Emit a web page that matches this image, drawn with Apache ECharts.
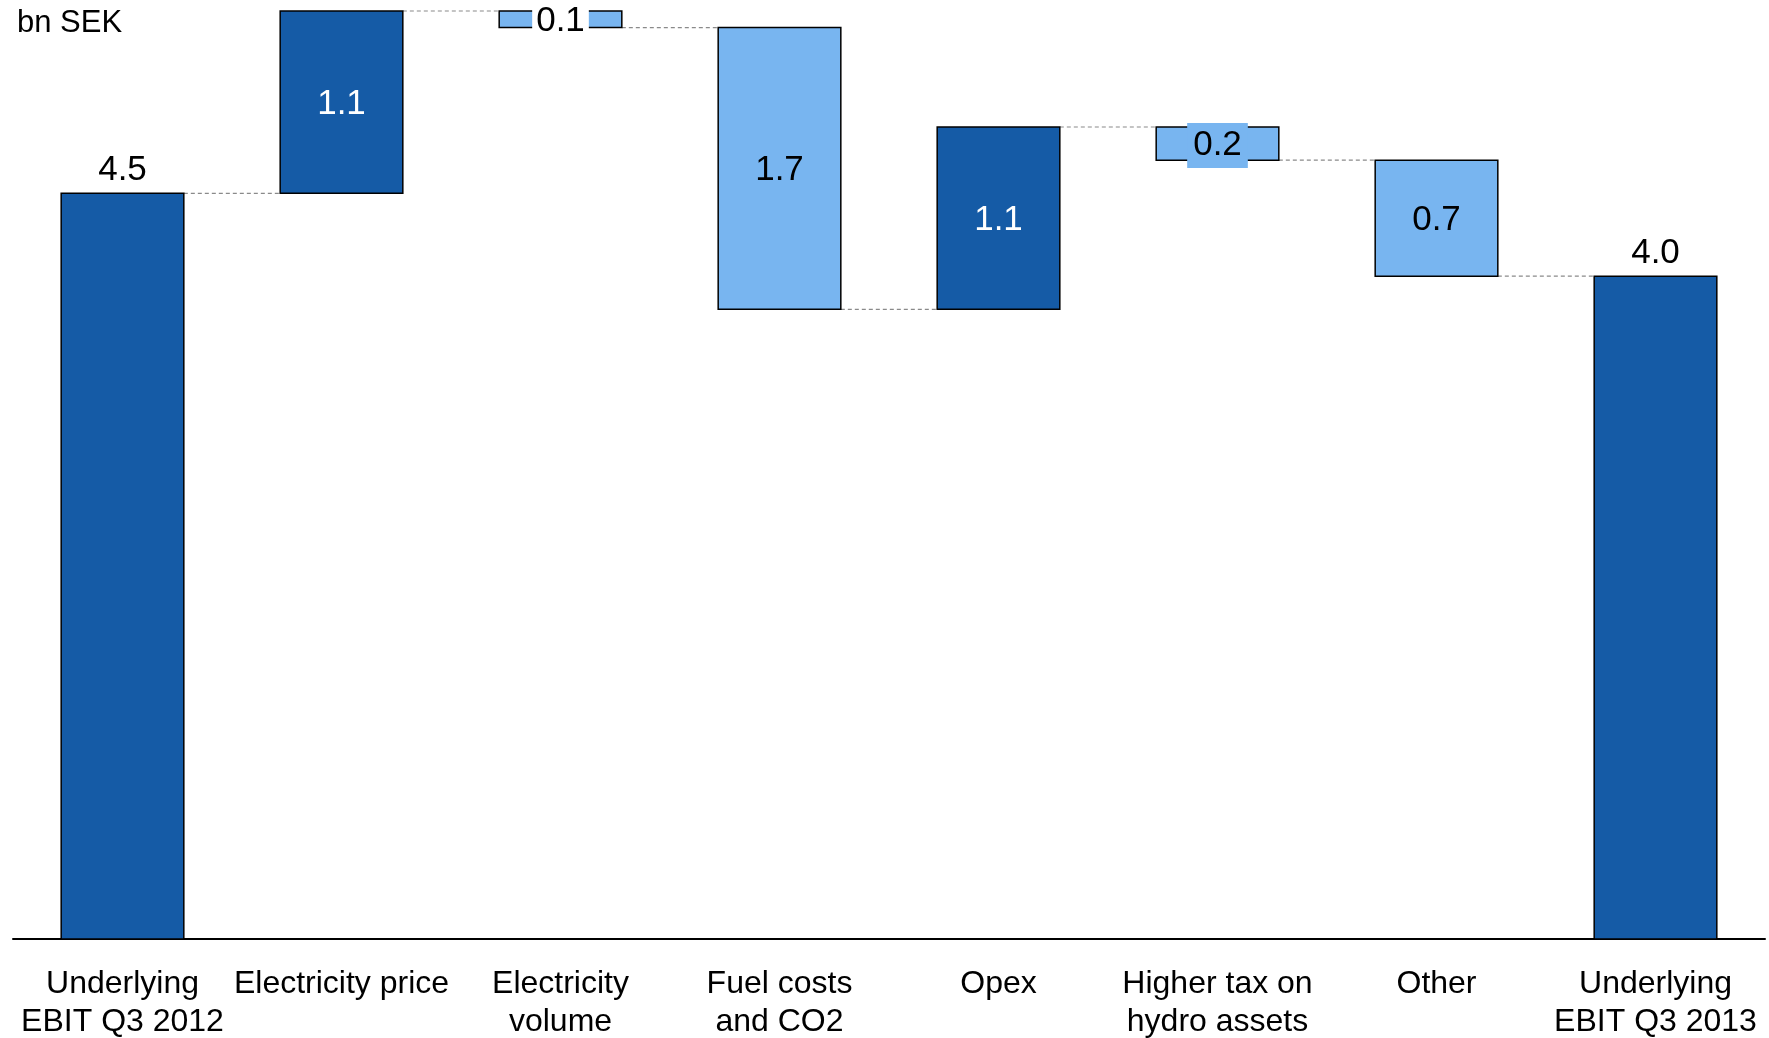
<!DOCTYPE html>
<html>
<head>
<meta charset="utf-8">
<script src="https://cdn.jsdelivr.net/npm/echarts@6/dist/echarts.min.js"></script>
<style>
  html, body { margin: 0; padding: 0; background: #fff; }
  #chart { width: 1769px; height: 1038px; }
</style>
</head>
<body>
<div id="chart"></div>
<script>
// categories and changes (bn SEK)
const categories = ['Underlying\nEBIT Q3 2012', 'Electricity price', 'Electricity\nvolume', 'Fuel costs\nand CO2',
  'Opex', 'Higher tax on\nhydro assets', 'Other', 'Underlying\nEBIT Q3 2013'];
const changes = [4.5, 1.1, -0.1, -1.7, 1.1, -0.2, -0.7, 4.0];
const isTotal = [true, false, false, false, false, false, false, true];
const valueLabels = ['4.5', '1.1', '0.1', '1.7', '1.1', '0.2', '0.7', '4.0'];

const DARK = '#155ba6';
const LIGHT = '#78b5f0';
const FONT = "'Liberation Sans', Arial, sans-serif";

// running levels for the waterfall
let level = 0;
const bars = [];
const levels = [];
changes.forEach((v, i) => {
  let lo, hi;
  if (isTotal[i]) { lo = 0; hi = v; level = v; }
  else { lo = Math.min(level, level + v); hi = Math.max(level, level + v); level = level + v; }
  bars.push([i, lo, hi]);
  levels.push(level);
});

const chart = echarts.init(document.getElementById('chart'));

chart.setOption({
  animation: false,
  grid: { left: 13, right: 4, top: 11, bottom: 99, outerBoundsMode: 'none', containLabel: false },
  graphic: [{
    type: 'text', left: 17, top: 8,
    style: { text: 'bn SEK', fill: '#000', font: '31px ' + FONT }
  }],
  xAxis: {
    type: 'category',
    data: categories,
    axisLine: { lineStyle: { color: '#000', width: 2 } },
    axisTick: { show: false },
    axisLabel: { color: '#000', fontSize: 32, fontFamily: FONT, lineHeight: 38, margin: 26, interval: 0 }
  },
  yAxis: { type: 'value', min: 0, max: 5.6, show: false },
  series: [{
    type: 'custom',
    data: bars,
    encode: { x: 0, y: [1, 2] },
    renderItem: function (params, api) {
      const i = api.value(0);
      const lo = api.coord([i, api.value(1)]);
      const hi = api.coord([i, api.value(2)]);
      const w = api.size([1, 0])[0] * 0.56;
      const up = isTotal[i] || changes[i] > 0;
      const children = [];
      if (i < changes.length - 1) {
        const p = api.coord([i, levels[i]]);
        const q = api.coord([i + 1, levels[i]]);
        children.push({
          type: 'line',
          shape: { x1: p[0] + w / 2, y1: p[1], x2: q[0] - w / 2, y2: q[1] },
          style: { stroke: '#8a8a8a', lineWidth: 1.2, lineDash: [4, 3] }
        });
      }
      children.push({
        type: 'rect',
        shape: { x: lo[0] - w / 2, y: hi[1], width: w, height: lo[1] - hi[1] },
        style: { fill: up ? DARK : LIGHT, stroke: '#000', lineWidth: 1.5 }
      });
      const txt = { text: valueLabels[i], font: '35px ' + FONT, align: 'center', x: lo[0] };
      if (isTotal[i]) {
        Object.assign(txt, { y: hi[1] - 5, verticalAlign: 'bottom', fill: '#000' });
      } else {
        Object.assign(txt, { y: (lo[1] + hi[1]) / 2 + 2, verticalAlign: 'middle', fill: up ? '#fff' : '#000' });
        if (i === 2) Object.assign(txt, { backgroundColor: '#fff', padding: [0, 4] });
        if (i === 5) Object.assign(txt, { backgroundColor: LIGHT, padding: [5, 6] });
      }
      children.push({ type: 'text', style: txt });
      return { type: 'group', children: children };
    }
  }]
});
</script>
</body>
</html>
